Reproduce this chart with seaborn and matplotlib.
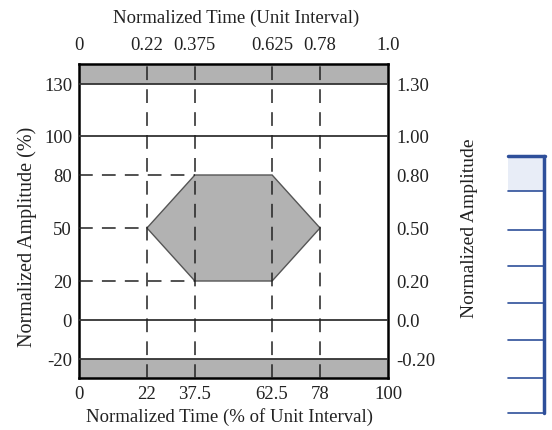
import numpy as np
import matplotlib
matplotlib.use("Agg")
import matplotlib.pyplot as plt
from matplotlib.lines import Line2D
from matplotlib.patches import Rectangle
import seaborn as sns

# mask data (percent of unit interval / percent amplitude)
hex_x = [22, 37.5, 62.5, 78, 62.5, 37.5]
hex_y = [50, 80, 80, 50, 20, 20]
time_ticks = [0, 22, 37.5, 62.5, 78, 100]
time_labels_pct = ["0", "22", "37.5", "62.5", "78", "100"]
time_labels_ui = ["0", "0.22", "0.375", "0.625", "0.78", "1.0"]
amp_ticks = [-20, 0, 20, 50, 80, 100, 130]
amp_labels_pct = ["-20", "0", "20", "50", "80", "100", "130"]
amp_labels_norm = ["-0.20", "0.0", "0.20", "0.50", "0.80", "1.00", "1.30"]
solid_levels = [130, 100, 0, -20]
dash_h = [(80, 37.5), (50, 22), (20, 37.5)]   # (level, end x)
ylim = (-40, 150)

# the original drawing is not to scale on the amplitude axis
_vals = [-40, -20, 0, 20, 50, 80, 100, 130, 150]
_pos = [0, 19, 58, 97, 150, 203, 242, 294, 314]
def fwd(v):
    return np.interp(v, _vals, _pos)
def inv(p):
    return np.interp(p, _pos, _vals)

sns.set_theme(style="white")
plt.rcParams['font.family'] = ['Liberation Serif', 'DejaVu Serif']
plt.rcParams['axes.unicode_minus'] = False

fig = plt.figure(figsize=(5.52, 4.31), dpi=100)
ax = fig.add_axes([79/552, 1-379/431, 309/552, 314/431])
ax.set_yscale('function', functions=(fwd, inv))
ax.set_xlim(0, 100)
ax.set_ylim(*ylim)

grey = "#b2b2b2"
ax.axhspan(130, ylim[1], color=grey, lw=0, zorder=1)
ax.axhspan(ylim[0], -20, color=grey, lw=0, zorder=1)
for lv in solid_levels:
    ax.axhline(lv, color="#333333", lw=1.3, zorder=3)

ax.fill(hex_x, hex_y, facecolor=grey, edgecolor="#555555", lw=1.0, zorder=2)

dash = (0, (9, 6))
for xv in [22, 37.5, 62.5, 78]:
    ax.axvline(xv, color="#222222", lw=1.1, ls=dash, zorder=4)
for lv, xe in dash_h:
    ax.plot([0, xe], [lv, lv], color="#222222", lw=1.1, ls=dash, zorder=4)

for s in ax.spines.values():
    s.set_color("black")
    s.set_linewidth(1.8)
    s.set_visible(True)

fs = 13.5
ax.set_xticks(time_ticks)
ax.set_xticklabels(time_labels_pct, fontsize=fs)
ax.set_yticks(amp_ticks)
ax.set_yticklabels(amp_labels_pct, fontsize=fs)
ax.tick_params(length=0, pad=5, colors="#222222")
ax.minorticks_off()

axr = ax.twinx()
axr.set_yscale('function', functions=(fwd, inv))
axr.set_ylim(*ylim)
axr.set_yticks(amp_ticks)
axr.set_yticklabels(amp_labels_norm, fontsize=fs)
axr.tick_params(length=0, pad=6, colors="#222222")
axr.minorticks_off()

axt = ax.twiny()
axt.set_xlim(0, 100)
axt.set_xticks(time_ticks)
axt.set_xticklabels(time_labels_ui, fontsize=fs)
axt.tick_params(length=0, pad=8, colors="#222222")
for a in (axr, axt):
    for s in a.spines.values():
        s.set_visible(False)

lab = dict(fontsize=13.5, color="#222222")
fig.text(236/552, 1-18/431, "Normalized Time (Unit Interval)", ha="center", va="center", **lab)
fig.text(229/552, 1-417/431, "Normalized Time (% of Unit Interval)", ha="center", va="center", **lab)
fig.text(27/552, 1-237/431, "Normalized Amplitude (%)", rotation=90, ha="center", va="center",
         fontsize=14.5, color="#222222")
fig.text(469/552, 1-228/431, "Normalized Amplitude", rotation=90, ha="center", va="center",
         fontsize=14, color="#222222")

# cropped table edge at the right of the screenshot
blue = "#2e4f9a"
def fx(px): return px/552
def fy(py): return 1-py/431
fig.patches.append(Rectangle((fx(508), fy(192)), fx(544)-fx(508), fy(157)-fy(192),
                             transform=fig.transFigure, facecolor="#e8edf7", edgecolor="none"))
fig.lines.append(Line2D([fx(508), fx(545)], [fy(157), fy(157)], transform=fig.transFigure, color=blue, lw=2.5))
fig.lines.append(Line2D([fx(543.5), fx(543.5)], [fy(157), fy(414)], transform=fig.transFigure, color=blue, lw=2.5))
for py in [192, 231, 267, 304, 341, 379, 414]:
    fig.lines.append(Line2D([fx(508), fx(543)], [fy(py), fy(py)], transform=fig.transFigure, color=blue, lw=1.2))

fig.savefig("out.png", dpi=100)
